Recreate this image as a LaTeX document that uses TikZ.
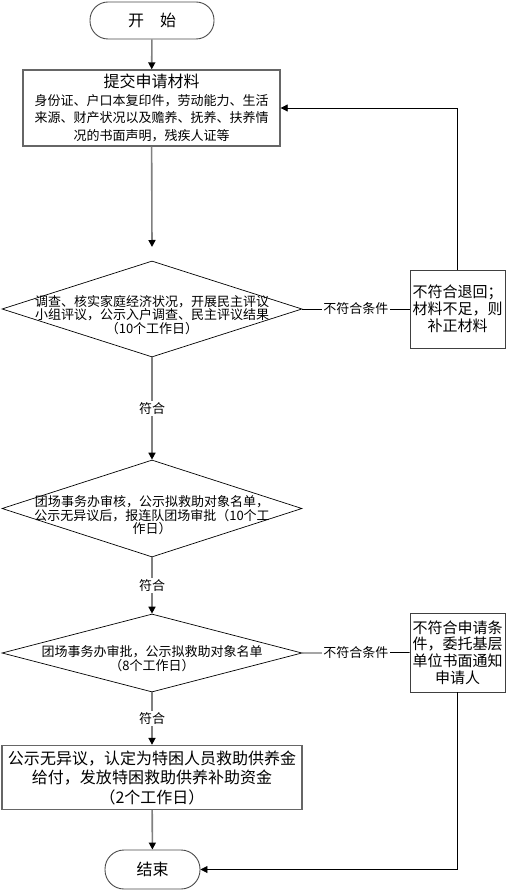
\documentclass[tikz,border=0pt]{standalone}
\usepackage{fontspec}
\newfontfamily\cjk{Noto Sans CJK SC}
\usetikzlibrary{shapes.geometric,arrows.meta}
\begin{document}
\begin{tikzpicture}[x=1pt,y=-1pt,
  every node/.style={font=\cjk},
  term/.style={draw=black!70, line width=0.9pt, rounded corners=18pt, inner sep=0pt},
  stepbox/.style={draw=black!60, line width=1.3pt, inner sep=0pt, align=center},
  sidebox/.style={draw=black!75, line width=0.9pt, inner sep=0pt, align=center, font=\cjk\fontsize{15}{17}\selectfont},
  dia/.style={diamond, draw=black, line width=0.7pt, inner sep=0pt},
  dtext/.style={align=center, inner sep=0pt, font=\cjk\fontsize{13}{13.5}\selectfont},
  flow/.style={draw=black!50, line width=1.6pt, -{Triangle[length=7pt,width=7pt,color=black]}},
  plain/.style={draw=black, line width=0.8pt},
  back/.style={draw=black, line width=0.8pt, -{Triangle[length=7pt,width=7pt]}},
  lbl/.style={fill=white, inner sep=1.5pt, font=\cjk\fontsize{13}{13}\selectfont}
]
\useasboundingbox (0,0) rectangle (509,890);
\fill[white] (0,0) rectangle (509,890);

\node[term, minimum width=124pt, minimum height=37pt] (start) at (152,20.5) {\fontsize{16}{16}\selectfont 开　始};

\node[stepbox, minimum width=257pt, minimum height=76pt, font=\cjk\fontsize{13}{17.5}\selectfont] (box1) at (151.5,108)
  {{\fontsize{16}{17}\selectfont 提交申请材料}\\身份证、户口本复印件，劳动能力、生活\\来源、财产状况以及赡养、抚养、扶养情\\况的书面声明，残疾人证等};
\coordinate (c1) at (152,247);

\node[dia, minimum width=300pt, minimum height=96pt] (d1) at (152,309) {};
\node[dtext] (t1) at (152,315) {调查、核实家庭经济状况，开展民主评议\\小组评议，公示入户调查、民主评议结果\\（10个工作日）};

\node[sidebox, minimum width=95pt, minimum height=78pt] (r1) at (457.5,309) {不符合退回；\\材料不足，则\\补正材料};

\node[dia, minimum width=300pt, minimum height=97pt] (d2) at (152,508.5) {};
\node[dtext] (t2) at (152,515.5) {团场事务办审核，公示拟救助对象名单，\\公示无异议后，报连队团场审批（10个工\\作日）};

\node[dia, minimum width=300pt, minimum height=78pt] (d3) at (152,653) {};
\node[dtext] (t3) at (152,658.5) {团场事务办审批，公示拟救助对象名单\\（8个工作日）};

\node[sidebox, minimum width=95pt, minimum height=79pt, font=\cjk\fontsize{15}{16.7}\selectfont] (r2) at (457.5,652.5) {不符合申请条\\件，委托基层\\单位书面通知\\申请人};

\node[stepbox, minimum width=300pt, minimum height=64pt, font=\cjk\fontsize{16}{19.5}\selectfont] (box4) at (152,777.5)
  {公示无异议，认定为特困人员救助供养金\\给付，发放特困救助供养补助资金\\（2个工作日）};

\node[term, minimum width=95pt, minimum height=39pt, rounded corners=19pt] (fin) at (152.5,869.5) {\fontsize{16}{16}\selectfont 结束};

\draw[flow] (start) -- (box1);
\draw[flow] (box1) -- (c1);
\draw[flow] (d1.south) -- node[lbl] (l1) {符合} (d2.north);
\draw[plain] (d1.east) -- node[lbl] (l2) {不符合条件} (r1.west);
\draw[back] (r1.north) |- (box1.east);
\draw[flow] (d2.south) -- node[lbl] (l3) {符合} (d3.north);
\draw[plain] (d3.east) -- node[lbl] (l4) {不符合条件} (r2.west);
\draw[flow] (d3.south) -- node[lbl] (l5) {符合} (box4.north);
\draw[flow] (box4) -- (fin);
\draw[back] (r2.south) |- (fin.east);
\end{tikzpicture}
\end{document}
